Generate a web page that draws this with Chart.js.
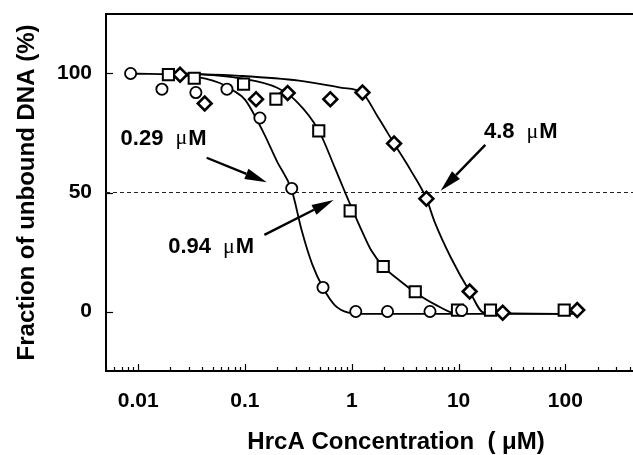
<!DOCTYPE html>
<html>
<head>
<meta charset="utf-8">
<script src="https://cdn.jsdelivr.net/npm/chart.js@4.4.1/dist/chart.umd.min.js"></script>
<style>
  html, body { margin: 0; padding: 0; background: #fff; overflow: hidden; }
</style>
</head>
<body>
<canvas id="chart" width="696" height="455"></canvas>
<script>
// measured points, x = HrcA (uM), y = unbound DNA (%)
const circleConc = [0.0085, 0.0167, 0.0347, 0.0678, 0.138, 0.274, 0.538, 1.09, 2.16, 5.4, 10.7];
const circleFrac = [100, 93.4, 92, 93.4, 81.3, 51.7, 10.1, 0, 0, 0, 0.5];
const squareConc = [0.0192, 0.0335, 0.097, 0.195, 0.491, 0.966, 1.97, 3.93, 9.77, 19.9, 97.5];
const squareFrac = [99.5, 98, 95.5, 89.2, 75.9, 42.3, 18.9, 8.3, 0.6, 0.6, 0.6];
const diamondConc = [0.0247, 0.042, 0.127, 0.251, 0.63, 1.26, 2.49, 5.0, 12.7, 25.9, 129];
const diamondFrac = [99.5, 87.4, 89.2, 91.8, 89.2, 92, 70.6, 47.4, 8.4, -0.5, 0.6];

// fitted curves
const circleFitConc = [0.0085, 0.03, 0.058, 0.077, 0.1, 0.146, 0.2, 0.274, 0.34, 0.425, 0.538, 0.7, 0.93, 1.2, 10.7];
const circleFitFrac = [100, 99, 96, 93, 89, 76, 63, 51, 34, 20, 10, 2.5, -0.5, -1, -1];
const squareFitConc = [0.0192, 0.05, 0.089, 0.2, 0.3, 0.491, 0.7, 0.867, 1.24, 1.53, 1.97, 2.8, 3.93, 6, 9.77, 97.5];
const squareFitFrac = [100, 99.3, 98, 94, 88.5, 76, 60, 50, 34, 25.5, 19, 13, 8, 3, -1, -1];
const diamondFitConc = [0.0247, 0.089, 0.32, 0.81, 1.24, 1.77, 2.49, 3.6, 5.0, 5.93, 8.46, 12.7, 17.3, 129];
const diamondFitFrac = [100, 99, 97, 94, 92, 81.5, 70.6, 59, 47.4, 38, 22.7, 8.4, -0.5, -1];

const xTickValues = [0.01, 0.1, 1, 10, 100];
const xTickLabels = ['0.01', '0.1', '1', '10', '100'];
const yTickValues = [0, 50, 100];
const yTickLabels = ['0', '50', '100'];
const halfLevel = 50;
const X_MIN = 0.005, X_MAX = 1350;

// midpoint labels with arrows (data coords)
const notes = [
  { num: '0.29', x: 0.00685, y: 72.6, from: [0.0438, 64.6], to: [0.16, 54.3] },
  { num: '0.94', x: 0.0191, y: 27.2, from: [0.152, 32.2], to: [0.676, 46.9] },
  { num: '4.8', x: 17.3, y: 75.5, from: [17.8, 70], to: [6.79, 50.7] }
];

const zip = (xs, ys) => xs.map((x, i) => ({ x: x, y: ys[i] }));
const FONT = '"Liberation Sans", Arial, Helvetica, sans-serif';

function curve(xs, ys) {
  return {
    data: zip(xs, ys),
    showLine: true,
    borderColor: '#000',
    borderWidth: 1.8,
    pointRadius: 0,
    cubicInterpolationMode: 'monotone',
    order: 2
  };
}

function marks(xs, ys, style, r, bw) {
  return {
    data: zip(xs, ys),
    pointStyle: style,
    pointRadius: r,
    pointBorderWidth: bw,
    pointBorderColor: '#000',
    pointBackgroundColor: '#fff',
    order: 1
  };
}

const decor = {
  id: 'decor',
  beforeDatasetsDraw(chart) {
    const { ctx, chartArea: a } = chart;
    const y = chart.scales.y.getPixelForValue(halfLevel);
    ctx.save();
    ctx.strokeStyle = '#222';
    ctx.lineWidth = 1;
    ctx.setLineDash([4, 3]);
    ctx.beginPath();
    ctx.moveTo(a.left, y);
    ctx.lineTo(a.right, y);
    ctx.stroke();
    ctx.restore();
  },
  afterDatasetsDraw(chart) {
    const { ctx } = chart;
    const xs = chart.scales.x, ys = chart.scales.y;
    ctx.save();
    ctx.fillStyle = '#000';
    ctx.strokeStyle = '#000';
    notes.forEach(n => {
      // label: bold number, thin mu, bold M
      let px = xs.getPixelForValue(n.x);
      const py = ys.getPixelForValue(n.y);
      ctx.textBaseline = 'middle';
      ctx.textAlign = 'left';
      ctx.font = 'bold 22px ' + FONT;
      ctx.fillText(n.num, px, py);
      px += ctx.measureText(n.num).width + 12;
      ctx.font = '22px "Liberation Serif", "Times New Roman", serif';
      ctx.fillText('\u03bc', px, py);
      px += ctx.measureText('\u03bc').width + 1;
      ctx.font = 'bold 22px ' + FONT;
      ctx.fillText('M', px, py);

      // arrow
      const x0 = xs.getPixelForValue(n.from[0]), y0 = ys.getPixelForValue(n.from[1]);
      const x1 = xs.getPixelForValue(n.to[0]), y1 = ys.getPixelForValue(n.to[1]);
      const ang = Math.atan2(y1 - y0, x1 - x0);
      const head = 22, half = 5.5;
      const bx = x1 - head * Math.cos(ang), by = y1 - head * Math.sin(ang);
      ctx.lineWidth = 2.4;
      ctx.beginPath();
      ctx.moveTo(x0, y0);
      ctx.lineTo(bx, by);
      ctx.stroke();
      ctx.beginPath();
      ctx.moveTo(x1, y1);
      ctx.lineTo(bx + half * Math.sin(ang), by - half * Math.cos(ang));
      ctx.lineTo(bx - half * Math.sin(ang), by + half * Math.cos(ang));
      ctx.closePath();
      ctx.fill();
    });
    ctx.restore();
  },
  afterDraw(chart) {
    const { ctx, chartArea: a } = chart;
    const xs = chart.scales.x, ys = chart.scales.y;
    ctx.save();
    ctx.strokeStyle = '#000';
    // top frame line
    ctx.lineWidth = 2;
    ctx.beginPath();
    ctx.moveTo(a.left - 1, a.top);
    ctx.lineTo(a.right, a.top);
    ctx.stroke();
    // inward ticks on the log axis, majors longer
    ctx.lineWidth = 1.2;
    for (let e = -3; e <= 3; e++) {
      for (let k = 1; k <= 9; k++) {
        const v = k * Math.pow(10, e);
        if (v < xs.min || v > xs.max) continue;
        const px = Math.round(xs.getPixelForValue(v)) + 0.5;
        const len = k === 1 ? 7 : 4;
        ctx.beginPath();
        ctx.moveTo(px, a.bottom);
        ctx.lineTo(px, a.bottom - len);
        ctx.stroke();
      }
    }
    yTickValues.forEach(v => {
      const py = Math.round(ys.getPixelForValue(v)) + 0.5;
      ctx.beginPath();
      ctx.moveTo(a.left, py);
      ctx.lineTo(a.left + 7, py);
      ctx.stroke();
    });
    ctx.restore();
  }
};

new Chart(document.getElementById('chart'), {
  type: 'scatter',
  data: {
    datasets: [
      marks(circleConc, circleFrac, 'circle', 5.6, 1.8),
      marks(squareConc, squareFrac, 'rect', 7.9, 2),
      marks(diamondConc, diamondFrac, 'rectRot', 6.9, 2.6),
      curve(circleFitConc, circleFitFrac),
      curve(squareFitConc, squareFitFrac),
      curve(diamondFitConc, diamondFitFrac)
    ]
  },
  options: {
    responsive: false,
    animation: false,
    layout: { padding: { top: 14, left: 0, right: 0, bottom: 0 } },
    plugins: { legend: { display: false }, tooltip: { enabled: false } },
    scales: {
      x: {
        type: 'logarithmic',
        position: 'bottom',
        min: X_MIN,
        max: X_MAX,
        afterBuildTicks: s => { s.ticks = xTickValues.map(v => ({ value: v })); },
        afterFit: s => { s.height = 84; s.paddingLeft = 0; s.paddingRight = 0; },
        grid: { display: false, drawTicks: false },
        border: { display: true, color: '#000', width: 2 },
        ticks: {
          autoSkip: false,
          maxRotation: 0,
          padding: 18,
          color: '#000',
          font: { family: FONT, size: 21, weight: 'bold' },
          callback: (v, i) => xTickLabels[i]
        },
        title: {
          display: true,
          text: 'HrcA Concentration  ( \u03bcM)',
          color: '#000',
          font: { family: FONT, size: 24, weight: 'bold', lineHeight: 1 },
          padding: { top: 0, bottom: 1 }
        }
      },
      y: {
        type: 'linear',
        min: -25,
        max: 125,
        afterBuildTicks: s => { s.ticks = yTickValues.map(v => ({ value: v })); },
        afterFit: s => { s.width = 106; s.paddingTop = 0; s.paddingBottom = 0; },
        grid: { display: false, drawTicks: false },
        border: { display: true, color: '#000', width: 2 },
        ticks: {
          padding: 14,
          color: '#000',
          font: { family: FONT, size: 21, weight: 'bold' },
          callback: (v, i) => yTickLabels[i]
        },
        title: {
          display: true,
          text: 'Fraction of unbound DNA (%)',
          color: '#000',
          font: { family: FONT, size: 24, weight: 'bold', lineHeight: 1 },
          padding: { top: 15, bottom: 0 }
        }
      }
    }
  },
  plugins: [decor]
});
</script>
</body>
</html>
